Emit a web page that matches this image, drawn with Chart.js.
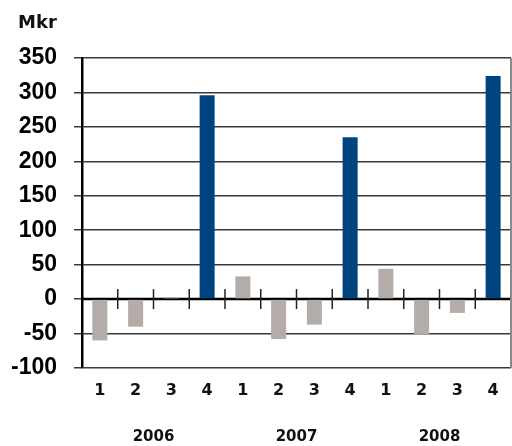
<!DOCTYPE html>
<html>
<head>
<meta charset="utf-8">
<script src="https://cdn.jsdelivr.net/npm/chart.js@4"></script>
<style>
html,body{margin:0;padding:0;background:#fff;}
#wrap{width:512px;height:446px;}
</style>
</head>
<body>
<div id="wrap"><canvas id="c" width="512" height="446"></canvas></div>
<script>
const quarters = ['1','2','3','4','1','2','3','4','1','2','3','4'];
const years = ['2006','2007','2008'];
const values = [-60,-40,3,296, 33,-58,-37,235, 44,-51,-20,324];
const yTicks = [-100,-50,0,50,100,150,200,250,300,350];
const unitLabel = 'Mkr';

const BLUE = '#00447f';
const GREY = '#b3aca9';

const extras = {
  id: 'extras',
  beforeDatasetsDraw(chart) {
    const {ctx, chartArea, scales} = chart;
    const y0 = scales.y.getPixelForValue(0);
    ctx.save();
    ctx.strokeStyle = '#000';
    ctx.lineWidth = 2.5;
    ctx.beginPath();
    ctx.moveTo(chartArea.left, y0);
    ctx.lineTo(chartArea.right, y0);
    ctx.stroke();
    ctx.restore();
  },
  afterDatasetsDraw(chart) {
    const {ctx, chartArea, scales} = chart;
    const x = scales.x, y = scales.y;
    const y0 = y.getPixelForValue(0);
    ctx.save();
    ctx.lineWidth = 1.5;
    ctx.strokeStyle = '#222';
    for (let i = 1; i <= quarters.length; i++) {
      const px = i < quarters.length
        ? (x.getPixelForValue(i - 1) + x.getPixelForValue(i)) / 2
        : chartArea.right;
      ctx.beginPath();
      ctx.moveTo(px, y0 - 10);
      ctx.lineTo(px, y0 + 10);
      ctx.stroke();
    }
    ctx.strokeStyle = '#8a8a8a';
    ctx.lineWidth = 2;
    ctx.beginPath();
    ctx.moveTo(chartArea.right, chartArea.top);
    ctx.lineTo(chartArea.right, chartArea.bottom);
    ctx.stroke();
    ctx.fillStyle = '#111';
    ctx.font = 'bold 18px "DejaVu Sans"';
    ctx.textBaseline = 'alphabetic';
    ctx.textAlign = 'left';
    ctx.fillText(unitLabel, 18, 28);
    ctx.restore();
  }
};

new Chart(document.getElementById('c'), {
  type: 'bar',
  data: {
    labels: quarters,
    datasets: [{
      data: values,
      backgroundColor: quarters.map(q => q === '4' ? BLUE : GREY),
      barPercentage: 0.42,
      categoryPercentage: 1.0,
      borderWidth: 0
    }]
  },
  options: {
    responsive: false,
    animation: false,
    layout: { padding: { top: 58, left: 4, right: 1, bottom: 0 } },
    plugins: { legend: { display: false }, tooltip: { enabled: false } },
    scales: {
      x: {
        type: 'category',
        position: 'bottom',
        offset: true,
        grid: { display: false, drawTicks: false },
        border: { display: false },
        afterFit: s => { s.height = 34; },
        ticks: {
          color: '#111',
          font: { family: 'DejaVu Sans', weight: 'bold', size: 16 },
          padding: 13,
          maxRotation: 0,
          autoSkip: false
        }
      },
      x2: {
        type: 'category',
        position: 'bottom',
        labels: years,
        offset: true,
        grid: { display: false, drawTicks: false },
        border: { display: false },
        afterFit: s => { s.height = 44; },
        ticks: {
          color: '#111',
          font: { family: 'DejaVu Sans', weight: 'bold', size: 15 },
          padding: 26,
          maxRotation: 0
        }
      },
      y: {
        min: -100,
        max: 350,
        afterBuildTicks: s => { s.ticks = yTicks.map(v => ({ value: v })); },
        afterFit: s => { s.width = 78; },
        grid: {
          color: '#3a3a3a',
          lineWidth: 1.5,
          tickLength: 8,
          drawTicks: true
        },
        border: { display: true, color: '#000', width: 2.5 },
        ticks: {
          color: '#000',
          font: { family: 'Liberation Sans', weight: 'bold', size: 23 },
          padding: 17
        }
      }
    }
  },
  plugins: [extras]
});
</script>
</body>
</html>
